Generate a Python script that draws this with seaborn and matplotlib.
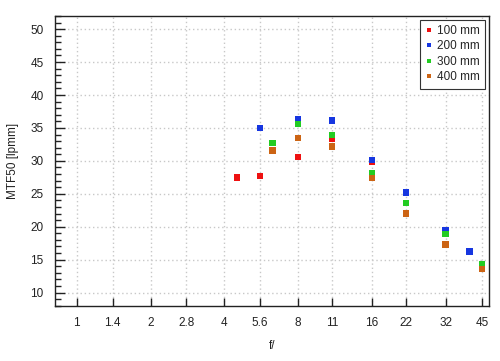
import matplotlib
matplotlib.use("Agg")
import matplotlib.pyplot as plt
import seaborn as sns
import pandas as pd
from matplotlib.ticker import FixedLocator, FixedFormatter, MultipleLocator, NullLocator

# ---- data ----
f_ticks = [1, 1.4, 2, 2.8, 4, 5.6, 8, 11, 16, 22, 32, 45]
f_tick_labels = ["1", "1.4", "2", "2.8", "4", "5.6", "8", "11", "16", "22", "32", "45"]
y_ticks = [10, 15, 20, 25, 30, 35, 40, 45, 50]

f_100 = [4.5, 5.6, 8, 11, 16, 22]
mtf_100 = [27.5, 27.7, 30.6, 33.3, 29.8, 25.2]

f_200 = [5.6, 8, 11, 16, 22, 32, 40]
mtf_200 = [35.0, 36.3, 36.1, 30.1, 25.2, 19.4, 16.2]

f_300 = [6.3, 8, 11, 16, 22, 32, 45]
mtf_300 = [32.7, 35.6, 33.9, 28.1, 23.6, 18.9, 14.3]

f_400 = [6.3, 8, 11, 16, 22, 32, 45]
mtf_400 = [31.6, 33.5, 32.2, 27.4, 22.0, 17.3, 13.6]

series_names = ["100 mm", "200 mm", "300 mm", "400 mm"]
series_colors = ["#ee1111", "#1636e0", "#22cc22", "#cc6414"]

rows = []
for name, fs, ms in zip(series_names, [f_100, f_200, f_300, f_400],
                        [mtf_100, mtf_200, mtf_300, mtf_400]):
    for f, m in zip(fs, ms):
        rows.append({"f": f, "mtf": m, "lens": name})
df = pd.DataFrame(rows)

# ---- plot ----
sns.set_theme(style="white")
plt.rcParams["font.family"] = ["Liberation Sans", "DejaVu Sans"]

fig = plt.figure(figsize=(5.0, 3.61), dpi=100)
ax = fig.add_axes([0.1094, 0.1532, 0.8680, 0.8025])

ax.set_xscale("log", base=2)
ax.set_xlim(0.813, 47.9)
ax.set_ylim(8, 52)

ax.grid(True, which="major", color="#c8c8c8", linestyle=(0, (1, 2)), linewidth=1.0)
ax.set_axisbelow(True)

sns.scatterplot(data=df, x="f", y="mtf", hue="lens", hue_order=series_names,
                palette=series_colors, marker="s", s=22, linewidth=0, ax=ax,
                zorder=3)

ax.xaxis.set_major_locator(FixedLocator(f_ticks))
ax.xaxis.set_major_formatter(FixedFormatter(f_tick_labels))
ax.xaxis.set_minor_locator(NullLocator())
ax.yaxis.set_major_locator(FixedLocator(y_ticks))
ax.yaxis.set_minor_locator(MultipleLocator(1))

ax.tick_params(axis="both", which="both", bottom=True, left=True, top=False, right=False)
ax.tick_params(axis="both", which="major", direction="in", length=7, width=1,
               color="#222222", labelsize=8.5, labelcolor="#222222", pad=8)
ax.tick_params(axis="y", which="minor", direction="in", length=4, width=1,
               color="#222222")
ax.tick_params(axis="x", which="major", length=6)

for sp in ax.spines.values():
    sp.set_color("#222222")
    sp.set_linewidth(1.0)
    sp.set_visible(True)

ax.set_xlabel("f/", fontsize=8.5, color="#222222", labelpad=8)
ax.set_ylabel("MTF50 [lpmm]", fontsize=8.5, color="#222222", labelpad=8)

handles, labels = ax.get_legend_handles_labels()
leg = ax.legend(handles, labels, loc="upper right", fontsize=8.5,
                frameon=True, fancybox=False, framealpha=1,
                edgecolor="#333333", markerscale=0.7, handlelength=0.6,
                handletextpad=0.4, labelspacing=0.3, borderpad=0.45,
                borderaxespad=0.3)
leg.get_frame().set_linewidth(0.8)

fig.savefig("out.png", dpi=100)
